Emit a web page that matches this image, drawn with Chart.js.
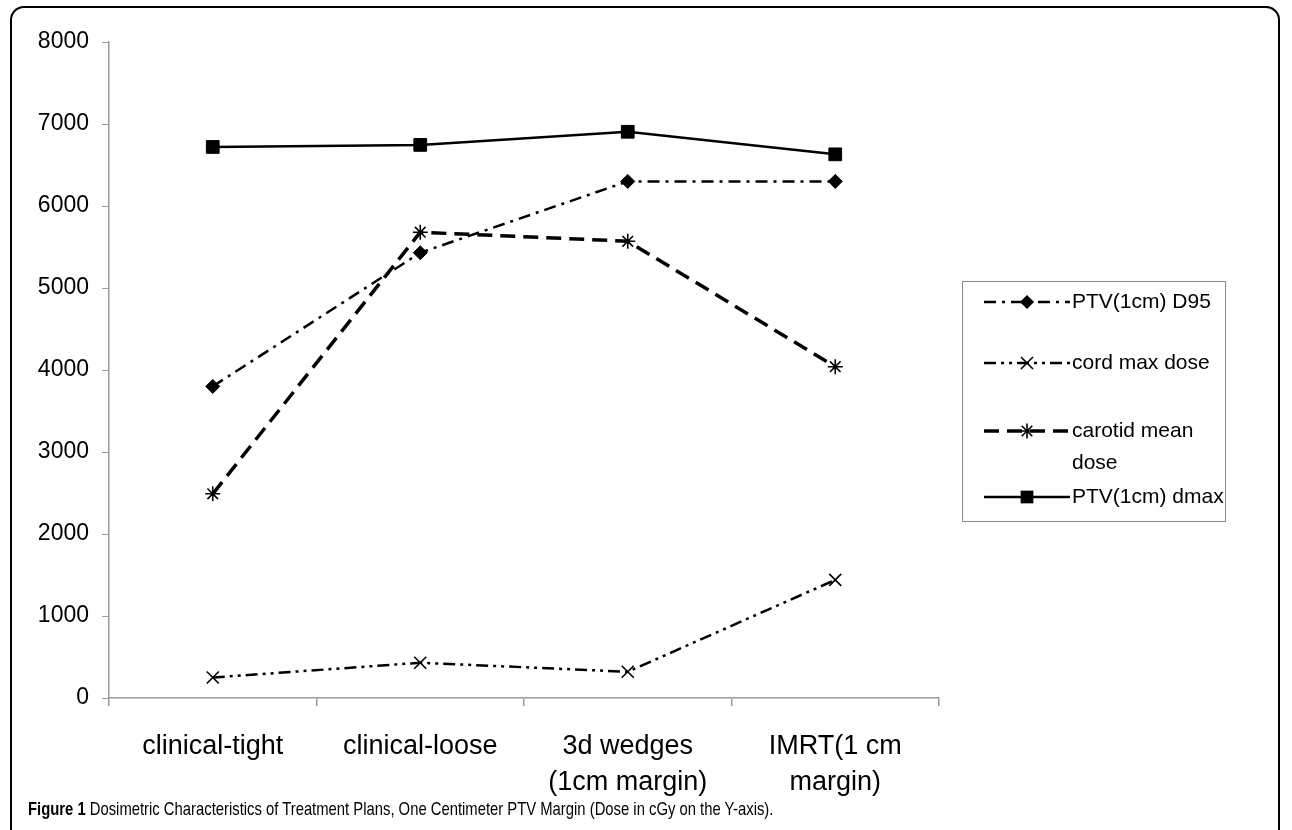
<!DOCTYPE html>
<html>
<head>
<meta charset="utf-8">
<script src="https://cdn.jsdelivr.net/npm/chart.js@4.4.1/dist/chart.umd.min.js"></script>
<style>
  html, body { margin: 0; padding: 0; background: #fff; overflow: hidden; }
  #wrap { position: relative; width: 1292px; height: 830px; }
  #frame { position: absolute; left: 10px; top: 6px; width: 1270px; height: 850px; border: 2px solid #000; border-radius: 14px; box-sizing: border-box; }
  #c { position: absolute; left: 0; top: 0; }
  #caption { position: absolute; left: 28px; top: 798px; font-family: "Liberation Sans", Arial, sans-serif; font-size: 19px; color: #000; white-space: nowrap; transform: scaleX(0.78); transform-origin: left top; }
  #caption b { font-weight: bold; }
</style>
</head>
<body>
<div id="wrap">
  <div id="frame"></div>
  <canvas id="c" width="1292" height="830"></canvas>
  <div id="caption"><b>Figure 1</b> Dosimetric Characteristics of Treatment Plans, One Centimeter PTV Margin (Dose in cGy on the Y-axis).</div>
</div>
<script>
// ---- data ----
const categories = [['clinical-tight'], ['clinical-loose'], ['3d wedges', '(1cm margin)'], ['IMRT(1 cm', 'margin)']];
const seriesNames = ['PTV(1cm) D95', 'cord max dose', 'carotid mean dose', 'PTV(1cm) dmax'];
const ptvD95 = [3800, 5430, 6300, 6300];
const cordMax = [250, 430, 320, 1440];
const carotidMean = [2490, 5680, 5570, 4040];
const ptvDmax = [6720, 6745, 6905, 6630];
const yTicks = [0, 1000, 2000, 3000, 4000, 5000, 6000, 7000, 8000];

// legend label lines (text wraps in original)
const legendLabels = [['PTV(1cm) D95'], ['cord max dose'], ['carotid mean', 'dose'], ['PTV(1cm) dmax']];

function drawMarker(ctx, style, x, y, r, lw) {
  ctx.save();
  ctx.fillStyle = '#000';
  ctx.strokeStyle = '#000';
  ctx.lineWidth = lw;
  ctx.setLineDash([]);
  ctx.beginPath();
  if (style === 'rectRot') {
    ctx.moveTo(x - r, y); ctx.lineTo(x, y - r); ctx.lineTo(x + r, y); ctx.lineTo(x, y + r); ctx.closePath(); ctx.fill();
  } else if (style === 'rect') {
    const s = r * Math.SQRT1_2; ctx.rect(x - s, y - s, 2 * s, 2 * s); ctx.fill();
  } else if (style === 'crossRot') {
    const s = r * Math.SQRT1_2;
    ctx.moveTo(x - s, y - s); ctx.lineTo(x + s, y + s); ctx.moveTo(x - s, y + s); ctx.lineTo(x + s, y - s); ctx.stroke();
  } else if (style === 'star') {
    const s = r * Math.SQRT1_2;
    ctx.moveTo(x - s, y - s); ctx.lineTo(x + s, y + s); ctx.moveTo(x - s, y + s); ctx.lineTo(x + s, y - s);
    ctx.moveTo(x, y - r); ctx.lineTo(x, y + r); ctx.moveTo(x - r, y); ctx.lineTo(x + r, y); ctx.stroke();
  }
  ctx.restore();
}

const legendPlugin = {
  id: 'customLegend',
  afterDraw(chart) {
    const ctx = chart.ctx;
    ctx.save();
    ctx.strokeStyle = '#8a8a8a';
    ctx.lineWidth = 1;
    ctx.strokeRect(962.5, 281.5, 263, 240);
    const rows = [302, 363, 431, 497];
    chart.data.datasets.forEach((ds, i) => {
      const y = rows[i];
      ctx.save();
      ctx.strokeStyle = '#000';
      ctx.lineWidth = ds.borderWidth;
      ctx.setLineDash(ds.borderDash || []);
      ctx.beginPath();
      ctx.moveTo(984, y); ctx.lineTo(1070, y); ctx.stroke();
      ctx.restore();
      drawMarker(ctx, ds.pointStyle, 1027, y, ds.pointRadius, ds.pointBorderWidth);
      ctx.fillStyle = '#000';
      ctx.font = '21px "Liberation Sans", Arial, sans-serif';
      ctx.textBaseline = 'middle';
      ctx.textAlign = 'left';
      legendLabels[i].forEach((t, k) => ctx.fillText(t, 1072, y + k * 32));
    });
    ctx.restore();
  }
};

const common = { borderColor: '#000', backgroundColor: '#000', pointBackgroundColor: '#000', pointBorderColor: '#000', fill: false, tension: 0 };

new Chart(document.getElementById('c'), {
  type: 'line',
  data: {
    labels: categories,
    datasets: [
      Object.assign({}, common, { label: seriesNames[0], data: ptvD95, borderWidth: 2.5, borderDash: [12, 6, 3, 6], pointStyle: 'rectRot', pointRadius: 7, pointBorderWidth: 1 }),
      Object.assign({}, common, { label: seriesNames[1], data: cordMax, borderWidth: 2.5, borderDash: [12, 5, 3, 5, 3, 5], pointStyle: 'crossRot', pointRadius: 8.5, pointBorderWidth: 1.6 }),
      Object.assign({}, common, { label: seriesNames[2], data: carotidMean, borderWidth: 3.5, borderDash: [15, 8], pointStyle: 'star', pointRadius: 7.5, pointBorderWidth: 1.6 }),
      Object.assign({}, common, { label: seriesNames[3], data: ptvDmax, borderWidth: 2.5, borderDash: [], pointStyle: 'rect', pointRadius: 9, pointBorderWidth: 1 })
    ]
  },
  options: {
    responsive: false,
    animation: false,
    devicePixelRatio: 1,
    layout: { padding: { left: 0, right: 353, top: 42, bottom: 0 } },
    plugins: { legend: { display: false }, tooltip: { enabled: false } },
    scales: {
      x: {
        offset: true,
        grid: { offset: true, drawOnChartArea: false, drawTicks: true, tickLength: 8, color: '#9a9a9a', lineWidth: 1.5 },
        border: { color: '#9a9a9a', width: 1.5 },
        ticks: { color: '#000', padding: 22, maxRotation: 0, autoSkip: false, font: { family: '"Liberation Sans", Arial, sans-serif', size: 27, lineHeight: 1.34 } },
        afterFit(s) { s.height = 132; }
      },
      y: {
        min: 0, max: 8000,
        afterBuildTicks(s) { s.ticks = yTicks.map(v => ({ value: v })); },
        grid: { drawOnChartArea: false, drawTicks: true, tickLength: 7, color: '#9a9a9a', lineWidth: 1 },
        border: { color: '#9a9a9a', width: 1.5 },
        ticks: { color: '#000', padding: 13, callback: v => String(v), font: { family: '"Liberation Sans", Arial, sans-serif', size: 23 } },
        afterFit(s) { s.width = 109; }
      }
    }
  },
  plugins: [legendPlugin]
});
</script>
</body>
</html>
